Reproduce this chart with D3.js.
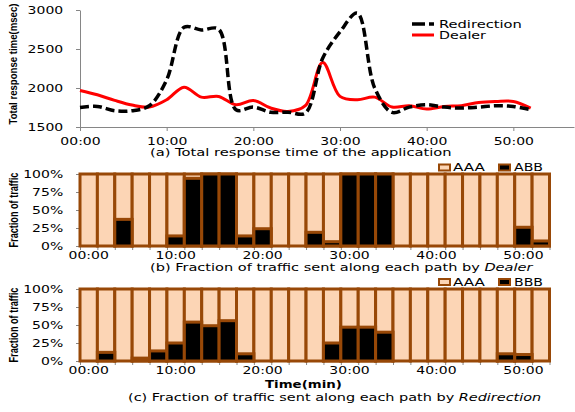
<!DOCTYPE html>
<html>
<head>
<meta charset="utf-8">
<script src="https://cdn.jsdelivr.net/npm/d3@7"></script>
<style>
  body { margin: 0; background: #fff; }
  text { font-family: "DejaVu Sans", Verdana, sans-serif; fill: #000; }
  .ytitle { font-family: "Liberation Sans Narrow", "Liberation Sans", Arial, sans-serif; font-weight: bold; }
</style>
</head>
<body>
<div id="chart"></div>
<script>
// sample times (minutes), one every 2 minutes
const minutes = [0, 2, 4, 6, 8, 10, 12, 14, 16, 18, 20, 22, 24, 26, 28, 30, 32, 34, 36, 38, 40, 42, 44, 46, 48, 50, 52];

// (a) total response time, msec
const redirection = [1751, 1764, 1709, 1709, 1772, 2105, 2778, 2744, 2753, 1721, 1755, 1690, 1690, 1679,
  2382, 2720, 2960, 2000, 1687, 1755, 1785, 1755, 1743, 1755, 1772, 1764, 1722];
const dealer = [1969, 1913, 1841, 1781, 1756, 1849, 2011, 1883, 1892, 1785, 1841, 1743, 1700, 1773,
  2327, 1892, 1849, 1883, 1756, 1773, 1730, 1764, 1773, 1815, 1828, 1828, 1743];

// (b) share of traffic on ABB with Dealer, percent
const dealerABB = [0, 0, 37, 0, 0, 14, 94, 100, 100, 14, 24, 0, 0, 19, 6, 100, 100, 100, 0, 0, 0, 0, 0, 0, 0, 26, 7];
// (c) share of traffic on BBB with Redirection, percent
const redirBBB = [0, 12, 0, 4, 14, 25, 54, 49, 56, 10, 0, 0, 0, 0, 25, 47, 47, 40, 0, 0, 0, 0, 0, 0, 10, 9, 0];

const timeTicks = [0, 10, 20, 30, 40, 50];
const msTicks = [1500, 2000, 2500, 3000];
const pctTicks = [0, 25, 50, 75, 100];

const axisColor = "#868686";
const peach = "#fcd5b5";
const brown = "#984807";
const sx = 1.4; // tick text is drawn wide

const fmtTime = (m) => String(m).padStart(2, "0") + ":00";

const svg = d3.select("#chart").append("svg").attr("width", 575).attr("height", 412);

// put a text at (x, y) and stretch it to a given width
function fitText(t, x, y, w, rot) {
  const nat = t.node().getComputedTextLength();
  t.attr("transform", "translate(" + x + "," + y + ")" + (rot ? " rotate(-90)" : "") + " scale(" + (w / nat) + ",1)");
  return t;
}

function styleAxis(g) {
  g.select(".domain").attr("stroke", axisColor).attr("stroke-width", 1);
  g.selectAll(".tick line").attr("stroke", axisColor);
  g.selectAll("text").attr("font-size", 10).attr("fill", "#000");
}

// ---------- (a) line chart ----------
const x = d3.scaleLinear().domain([0, 57]).range([80, 574]);
const y = d3.scaleLinear().domain([1500, 3000]).range([127, 10]);

svg.append("g")
  .attr("transform", "translate(0,127)")
  .call(d3.axisBottom(x).tickValues(timeTicks).tickFormat(fmtTime).tickSize(4).tickSizeOuter(0))
  .call(styleAxis)
  .selectAll("text")
  .attr("y", 0).attr("dy", 0)
  .attr("transform", "translate(0,17.5) scale(" + sx + ",1)");

svg.append("g")
  .attr("transform", "translate(80,0)")
  .call(d3.axisLeft(y).tickValues(msTicks).tickFormat(d3.format("d")).tickSize(4).tickSizeOuter(0))
  .call(styleAxis)
  .selectAll("text")
  .attr("x", -12).attr("dy", "0.36em")
  .attr("transform", "scale(" + sx + ",1)");

const line = (vals) => d3.line()
  .x((d, i) => x(minutes[i]))
  .y((d) => y(d))
  .curve(d3.curveCatmullRom.alpha(0.5))(vals);

svg.append("path")
  .attr("d", line(dealer))
  .attr("fill", "none")
  .attr("stroke", "#ff0000")
  .attr("stroke-width", 3);

svg.append("path")
  .attr("d", line(redirection))
  .attr("fill", "none")
  .attr("stroke", "#000")
  .attr("stroke-width", 3.5)
  .attr("stroke-dasharray", "9,4");

// legend
svg.append("line").attr("x1", 412).attr("x2", 434).attr("y1", 24).attr("y2", 24)
  .attr("stroke", "#000").attr("stroke-width", 3.5).attr("stroke-dasharray", "13,4");
svg.append("line").attr("x1", 412).attr("x2", 434).attr("y1", 35).attr("y2", 35)
  .attr("stroke", "#ff0000").attr("stroke-width", 3);
fitText(svg.append("text").attr("font-size", 10).text("Redirection"), 439, 27.5, 83);
fitText(svg.append("text").attr("font-size", 10).text("Dealer"), 439, 39, 47);

fitText(svg.append("text").attr("class", "ytitle").attr("font-size", 11)
  .attr("text-anchor", "middle").text("Total response time(msec)"), 17, 64, 121, true);

fitText(svg.append("text").attr("font-size", 10).text("(a) Total response time of the application"), 150, 156, 302);

// ---------- (b), (c) stacked bars ----------
const xb = d3.scaleBand().domain(minutes).range([80, 549.5]).padding(0);
const xEdge = d3.scaleLinear().domain([0, minutes.length]).range([80, 549.5]);

function barChart(top, bottom, share, otherName, caption, who, capY, capX, capW, legY) {
  const yb = d3.scaleLinear().domain([0, 100]).range([bottom, top]);

  // tick marks at the category edges
  svg.append("g")
    .attr("transform", "translate(0," + bottom + ")")
    .call(d3.axisBottom(xEdge).tickValues(d3.range(minutes.length + 1)).tickFormat("").tickSize(4).tickSizeOuter(0))
    .call(styleAxis);

  svg.append("g")
    .attr("transform", "translate(0," + bottom + ")")
    .call(d3.axisBottom(xb).tickValues(minutes.filter((m) => m % 10 === 0)).tickFormat(fmtTime).tickSize(0))
    .call(styleAxis)
    .call((g) => g.select(".domain").remove())
    .selectAll("text")
    .attr("y", 0).attr("dy", 0)
    .attr("transform", "translate(0,13) scale(" + sx + ",1)");

  svg.append("g")
    .attr("transform", "translate(80,0)")
    .call(d3.axisLeft(yb).tickValues(pctTicks).tickFormat((d) => d + "%").tickSize(4).tickSizeOuter(0))
    .call(styleAxis)
    .selectAll("text")
    .attr("x", -12).attr("dy", "0.36em")
    .attr("transform", "scale(" + sx + ",1)");

  const rows = share.map((v, i) => ({ m: minutes[i], v: v }));
  const g = svg.append("g");
  // AAA share fills each bar, the other path is stacked at the bottom
  g.selectAll(".aaa")
    .data(rows)
    .enter()
    .append("rect")
    .attr("class", "aaa")
    .attr("x", (d) => xb(d.m))
    .attr("width", xb.bandwidth())
    .attr("y", yb(100))
    .attr("height", yb(0) - yb(100))
    .attr("fill", peach)
    .attr("stroke", brown)
    .attr("stroke-width", 3);
  g.selectAll(".other")
    .data(rows.filter((d) => d.v > 0))
    .enter()
    .append("rect")
    .attr("class", "other")
    .attr("x", (d) => xb(d.m))
    .attr("width", xb.bandwidth())
    .attr("y", (d) => yb(d.v))
    .attr("height", (d) => yb(0) - yb(d.v))
    .attr("fill", "#000")
    .attr("stroke", brown)
    .attr("stroke-width", 3);

  // legend
  svg.append("rect").attr("x", 439).attr("y", legY - 6.5).attr("width", 11).attr("height", 6)
    .attr("fill", peach).attr("stroke", brown).attr("stroke-width", 2);
  fitText(svg.append("text").attr("font-size", 10).text("AAA"), 453, legY, 32);
  svg.append("rect").attr("x", 499).attr("y", legY - 6.5).attr("width", 11).attr("height", 6)
    .attr("fill", "#000").attr("stroke", brown).attr("stroke-width", 2);
  fitText(svg.append("text").attr("font-size", 10).text(otherName), 514, legY, 29);

  fitText(svg.append("text").attr("class", "ytitle").attr("font-size", 12)
    .attr("text-anchor", "middle").text("Fraction of traffic"), 17.5, (top + bottom) / 2, 75, true);

  const cap = svg.append("text").attr("font-size", 10);
  cap.append("tspan").text(caption);
  cap.append("tspan").attr("font-style", "italic").text(who);
  fitText(cap, capX, capY, capW);
}

barChart(174, 246, dealerABB, "ABB", "(b) Fraction of traffic sent along each path by ", "Dealer", 271, 150, 383, 171);
barChart(289, 361, redirBBB, "BBB", "(c) Fraction of traffic sent along each path by ", "Redirection", 401, 128, 414, 285.5);

fitText(svg.append("text").attr("font-size", 10).attr("font-weight", "bold").text("Time(min)"), 265, 388, 77);
</script>
</body>
</html>
